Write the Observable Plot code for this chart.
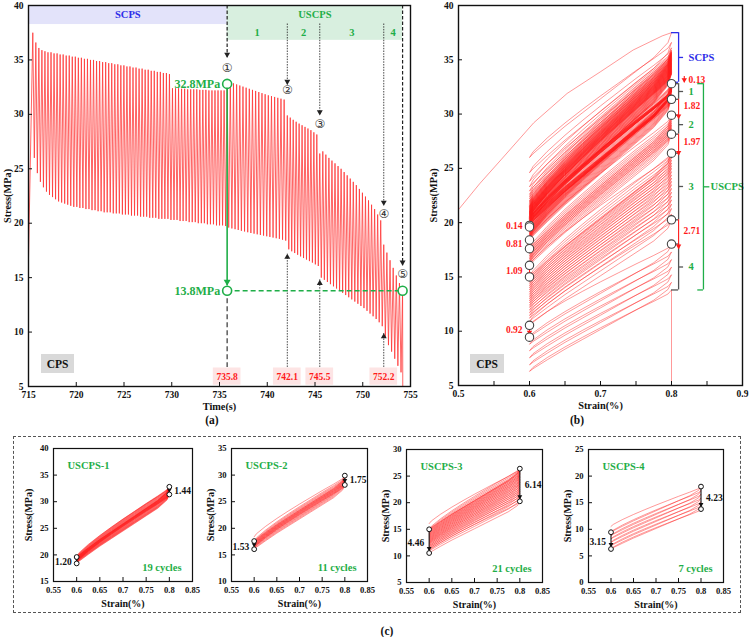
<!DOCTYPE html>
<html>
<head>
<meta charset="utf-8">
<script src="https://cdn.jsdelivr.net/npm/d3@7"></script>
<script src="https://cdn.jsdelivr.net/npm/@observablehq/plot@0.6"></script>
<style>
  html, body { margin: 0; padding: 0; background: #fff; }
  #fig { position: relative; width: 749px; height: 637px; overflow: hidden;
         font-family: "Liberation Serif", "Times New Roman", serif; font-weight: bold; color: #111; }
  #fig svg { position: absolute; max-width: none; background: transparent; }
  .note { position: absolute; white-space: nowrap; font-size: 11.5px; transform: translate(-50%, -50%); }
  .tag { position: absolute; background: #d9d9d9; font-size: 11.5px; display: flex;
         align-items: center; justify-content: center; }
  #boxC { position: absolute; left: 13px; top: 436px; width: 728px; height: 177px;
          border: 1.5px dashed #555; box-sizing: border-box; }
</style>
</head>
<body>
<div id="fig"><div id="boxC"></div></div>
<script>
// ---------- cycle extremes of each loading phase (stress, MPa) ----------
const phaseNames = ["SCPS", "USCPS-1", "USCPS-2", "USCPS-3", "USCPS-4"];
const phaseStart = [715.45, 735.8, 742.1, 745.5, 752.2];
const phaseEnd   = [735.8, 742.1, 745.5, 752.2, 754.5];

const peaksSCPS = [
  37.5, 36.6, 36.1, 35.9, 35.8, 35.7, 35.7, 35.6, 35.6, 35.5,
  35.5, 35.4, 35.4, 35.3, 35.3, 35.2, 35.2, 35.1, 35.1, 35.0,
  35.0, 34.9, 34.9, 34.8, 34.8, 34.7, 34.7, 34.6, 34.6, 34.5,
  34.5, 34.4, 34.4, 34.3, 34.3, 34.2, 34.2, 34.1, 34.1, 34.0,
  34.0, 33.9, 33.9, 33.8, 33.8, 33.7, 32.4, 32.4, 32.4, 32.35,
  32.35, 32.3, 32.3, 32.3, 32.3, 32.25, 32.25, 32.25, 32.2, 32.2,
  32.2, 32.2, 32.2, 32.2];
const valleysSCPS = [
  26.0, 24.6, 23.8, 23.3, 22.9, 22.6, 22.4, 22.2, 22.0, 21.9,
  21.8, 21.7, 21.6, 21.5, 21.5, 21.4, 21.4, 21.3, 21.3, 21.2,
  21.2, 21.1, 21.1, 21.0, 21.0, 21.0, 20.9, 20.9, 20.9, 20.8,
  20.8, 20.8, 20.7, 20.7, 20.7, 20.6, 20.6, 20.6, 20.5, 20.5,
  20.5, 20.4, 20.4, 20.4, 20.4, 20.3, 20.3, 20.3, 20.2, 20.2,
  20.2, 20.1, 20.1, 20.1, 20.0, 20.0, 20.0, 19.9, 19.9, 19.9,
  19.8, 19.8, 19.8, 19.74];
const peaksU1 = [32.8, 32.95, 32.85, 32.75, 32.65, 32.55, 32.45, 32.35, 32.25, 32.15,
  32.05, 31.95, 31.85, 31.75, 31.68, 31.6, 31.52, 31.44, 31.36];
const valleysU1 = [19.6, 19.52, 19.45, 19.38, 19.3, 19.24, 19.17, 19.1, 19.04, 18.98,
  18.92, 18.86, 18.8, 18.74, 18.68, 18.62, 18.56, 18.48, 18.4];
const peaksU2 = [29.9, 29.7, 29.5, 29.32, 29.15, 29.0, 28.85, 28.7, 28.55, 28.35, 28.15];
const valleysU2 = [17.6, 17.42, 17.26, 17.1, 16.95, 16.8, 16.66, 16.52, 16.38, 16.22, 16.07];
const peaksU3 = [26.4, 26.6, 26.3, 26.0, 25.75, 25.5, 25.25, 25.0, 24.7, 24.4,
  24.1, 23.8, 23.5, 23.15, 22.8, 22.45, 22.1, 21.7, 21.3, 20.8, 20.26];
const valleysU3 = [15.0, 14.8, 14.6, 14.4, 14.2, 14.0, 13.8, 13.6, 13.4, 13.2,
  13.0, 12.8, 12.6, 12.4, 12.2, 11.95, 11.7, 11.45, 11.2, 10.9, 10.54];
const peaksU4 = [18.03, 17.3, 16.6, 15.9, 15.2, 14.5, 13.8];
const valleysU4 = [9.45, 8.8, 8.2, 7.55, 6.9, 6.3];

// first monotonic loading (time ramp and strain path)
const rampTime = [714.95];
const rampStress = [14.5];
const initLoadStrain = [0.47, 0.5, 0.53, 0.56, 0.606, 0.653, 0.7, 0.746, 0.787, 0.8];
const initLoadStress = [19.0, 21.2, 23.6, 25.8, 29.2, 31.9, 33.9, 35.9, 37.2, 37.5];
const failureStress = 0;

// hysteresis loop shape between strain limits (fraction of the stress swing)
const loopStrain  = [0.6, 0.605, 0.625, 0.65, 0.675, 0.7, 0.725, 0.75, 0.775, 0.795, 0.8];
const loadShape   = [0, 0.05, 0.17, 0.3, 0.42, 0.535, 0.645, 0.755, 0.86, 0.95, 1];
const unloadShape = [0, 0.03, 0.13, 0.25, 0.36, 0.47, 0.58, 0.69, 0.8, 0.92, 1];

// annotation values
const bandTop = 40, scpsBandBottom = 38.25, uscpsBandBottom = 36.8;
const markerText = ["\u2460", "\u2461", "\u2462", "\u2463", "\u2464"];
const markerArrowFrom = [40, 38.3, 38.3, 38.3, 40];
const markerArrowTo = [35.2, 32.7, 29.9, 21.6, 16.1];
const markerY = [34.2, 32.2, 29.1, 20.8, 15.3];
const pointerFrom = 6.75;
const pointerTo = [17.2, 14.8, 9.9];
const peakGapLabels = [1.82, 1.97, 2.71];
const valleyGapLabels = [0.14, 0.81, 1.09, 0.92];
const scpsGapLabel = 0.13;

// ---------- derived tables ----------
const peakSets = [peaksSCPS, peaksU1, peaksU2, peaksU3, peaksU4];
const valleySets = [valleysSCPS, valleysU1, valleysU2, valleysU3, valleysU4];
const phases = phaseNames.map((name, i) => ({
  name, start: phaseStart[i], end: phaseEnd[i], peaks: peakSets[i], valleys: valleySets[i],
  period: (phaseEnd[i] - phaseStart[i]) / peakSets[i].length
}));

const timeSeries = rampTime.map((t, i) => ({t, s: rampStress[i]}));
phases.forEach(ph => ph.peaks.forEach((p, k) => {
  const t = ph.start + k * ph.period;
  timeSeries.push({t, s: p});
  if (k < ph.valleys.length) timeSeries.push({t: t + ph.period / 2, s: ph.valleys[k]});
}));
const lastPoint = timeSeries[timeSeries.length - 1];
timeSeries.push({t: lastPoint.t + 0.03, s: failureStress});

function extremaOf(list) {
  const out = [];
  list.forEach(ph => ph.peaks.forEach((p, k) => {
    out.push({kind: "peak", s: p});
    if (k < ph.valleys.length) out.push({kind: "valley", s: ph.valleys[k]});
  }));
  return out;
}
function loopPoints(ext) {
  const pts = [];
  for (let j = 1; j < ext.length; j++) {
    const a = ext[j - 1], b = ext[j];
    if (a.kind === "peak") {
      for (let i = loopStrain.length - 1; i >= 0; i--)
        pts.push({e: loopStrain[i], s: b.s + unloadShape[i] * (a.s - b.s)});
    } else {
      for (let i = 0; i < loopStrain.length; i++)
        pts.push({e: loopStrain[i], s: a.s + loadShape[i] * (b.s - a.s)});
    }
  }
  return pts;
}
const strainPath = initLoadStrain.map((e, i) => ({e, s: initLoadStress[i]}))
  .concat(loopPoints(extremaOf(phases)))
  .concat([{e: 0.8, s: failureStress}]);

const u1 = phases[1], u4 = phases[4];
const uStart = u1.start;
const firstU = u1.peaks[0];
const lastU = u4.peaks[u4.peaks.length - 1];
const lastT = u4.start + (u4.peaks.length - 1) * u4.period;
const last = a => a[a.length - 1];

// ---------- styling ----------
const red = "#ff1a1a", green = "#1fae48", blue = "#2d2de8", gray = "#555";
const baseStyle = {fontFamily: '"Liberation Serif", "Times New Roman", serif', fontWeight: "bold",
                   fontSize: "9.5px", background: "transparent", overflow: "visible", color: "#111"};
const fig = document.getElementById("fig");
function place(svg, left, top) { svg.style.left = left + "px"; svg.style.top = top + "px"; fig.appendChild(svg); }
function note(text, x, y, size, color) {
  const d = document.createElement("div"); d.className = "note"; d.textContent = text;
  d.style.left = x + "px"; d.style.top = y + "px";
  if (size) d.style.fontSize = size + "px"; if (color) d.style.color = color;
  fig.appendChild(d);
}
function tag(text, x, y, w, h) {
  const d = document.createElement("div"); d.className = "tag"; d.textContent = text;
  Object.assign(d.style, {left: x + "px", top: y + "px", width: w + "px", height: h + "px"});
  fig.appendChild(d);
}
// arrow heads as filled triangles whose tip sits on the point
function heads(data, opts, dir = "down", r = 2.2) {
  const off = 1.55 * r;
  return Plot.dot(data, {...opts, symbol: "triangle", r, stroke: "none",
    rotate: dir === "down" ? 180 : 0, dy: dir === "down" ? -off : off});
}
function axes({xTicks, yTicks, xMinor, fw, fh, xFmt, xTitle, yTitle, yTitleDx, titleDy, titleSize}) {
  const fmt = xFmt || (d => String(d));
  return [
    Plot.tickX(xMinor || xTicks, {x: d => d, insetTop: fh - 4, stroke: "#111"}),
    Plot.tickY(yTicks, {y: d => d, insetRight: fw - 4, stroke: "#111"}),
    Plot.axisX({ticks: xTicks, tickSize: 0, tickPadding: 5, tickFormat: fmt, label: null}),
    Plot.axisY({ticks: yTicks, tickSize: 0, tickPadding: 5, tickFormat: d => String(d), label: null}),
    Plot.text([xTitle], {text: d => d, frameAnchor: "bottom", dy: titleDy, lineAnchor: "middle", fontSize: titleSize}),
    Plot.text([yTitle], {text: d => d, frameAnchor: "left", dx: yTitleDx, rotate: -90,
      lineAnchor: "middle", textAnchor: "middle", fontSize: titleSize})
  ];
}

// ---------- (a) stress history ----------
const markerX = [u1.start, phases[2].start, phases[3].start, phases[4].start, lastT];
const markers = markerX.map((x, i) => ({x, from: markerArrowFrom[i], to: markerArrowTo[i], y: markerY[i],
  text: markerText[i], dashed: i === 0 || i === 4}));
const pointers = [2, 3, 4].map((p, i) => ({x: phases[p].start, to: pointerTo[i]}));
const timeTags = [1, 2, 3, 4].map(p => ({x: phases[p].start, text: String(phases[p].start)}));
const stageMid = [1, 2, 3, 4].map(p => ({x: (phases[p].start + Math.min(phases[p].end, lastT)) / 2, text: String(p)}));

const chartA = Plot.plot({
  width: 420, height: 420, marginLeft: 28, marginRight: 10, marginTop: 5, marginBottom: 34,
  style: baseStyle,
  x: {domain: [715, 755]}, y: {domain: [5, 40]},
  marks: [
    Plot.rect([0], {x1: 715, x2: uStart, y1: scpsBandBottom, y2: bandTop, fill: "#e3e3fa"}),
    Plot.rect([0], {x1: uStart, x2: lastT, y1: uscpsBandBottom, y2: bandTop, fill: "#d8efdf"}),
    Plot.text(["SCPS"], {text: d => d, x: (715 + uStart) / 2, y: (bandTop + scpsBandBottom) / 2, fill: blue, fontSize: 10.5}),
    Plot.text(["USCPS"], {text: d => d, x: (uStart + lastT) / 2, y: (bandTop + scpsBandBottom) / 2, fill: green, fontSize: 10.5}),
    Plot.text(stageMid, {x: "x", y: (scpsBandBottom + uscpsBandBottom) / 2, text: "text", fill: green, fontSize: 10.5}),
    Plot.line(timeSeries, {x: "t", y: "s", stroke: "#ff3030", strokeWidth: 0.75, clip: true}),
    // time tags along the bottom
    Plot.rect(timeTags, {x1: d => d.x - 1.45, x2: d => d.x + 1.45, y1: 5.12, y2: 6.7, fill: "#fde4e4"}),
    Plot.text(timeTags, {x: "x", y: 5.9, text: "text", fill: red, fontSize: 9.5}),
    // markers from the top
    Plot.ruleX(markers.filter(d => d.dashed), {x: "x", y1: "from", y2: "to", stroke: "#222", strokeWidth: 1.2, strokeDasharray: "3.5,2"}),
    Plot.ruleX(markers.filter(d => !d.dashed), {x: "x", y1: "from", y2: "to", stroke: "#333", strokeWidth: 0.9, strokeDasharray: "1.5,1.2"}),
    heads(markers, {x: "x", y: "to", fill: "#222"}, "down"),
    Plot.text(markers, {x: "x", y: "y", text: "text", fontFamily: "DejaVu Sans", fontWeight: "normal", fontSize: 12, fill: "#333"}),
    // pointers from the bottom
    Plot.ruleX(pointers, {x: "x", y1: pointerFrom, y2: "to", stroke: "#333", strokeWidth: 0.9, strokeDasharray: "1.5,1.2"}),
    heads(pointers, {x: "x", y: "to", fill: "#222"}, "up"),
    // stress drop over the unstable phase
    Plot.ruleX([uStart], {y1: lastU, y2: pointerFrom, stroke: "#444", strokeWidth: 1.3, strokeDasharray: "5,3"}),
    Plot.ruleX([uStart], {y1: firstU, y2: lastU + 0.45, stroke: green, strokeWidth: 1.6}),
    heads([uStart], {x: d => d, y: lastU + 0.45, fill: green}, "down", 2.6),
    Plot.ruleY([lastU], {x1: uStart, x2: lastT, stroke: green, strokeWidth: 1.4, strokeDasharray: "5,3"}),
    Plot.dot([{x: uStart, y: firstU}, {x: uStart, y: lastU}, {x: lastT, y: lastU}],
      {x: "x", y: "y", r: 4.5, stroke: green, strokeWidth: 1.6, fill: "white"}),
    Plot.text([{y: firstU}, {y: lastU}], {x: uStart, y: "y", text: d => d.y.toFixed(1) + "MPa",
      textAnchor: "end", dx: -7, fill: green, fontSize: 12}),
    Plot.frame({stroke: "#111", strokeWidth: 1.4}),
    ...axes({xTicks: d3.range(715, 756, 5), yTicks: d3.range(5, 41, 5), fw: 382, fh: 381,
      xTitle: "Time(s)", yTitle: "Stress(MPa)", yTitleDx: -21, titleDy: 20, titleSize: 10.3})
  ]
});
place(chartA, 0, 0);

// ---------- (b) stress-strain loops ----------
const circles08 = [];
const circles06 = [{e: 0.6, s: last(valleysSCPS)}];
phases.slice(1).forEach((ph, i) => {
  circles08.push({e: 0.8, s: ph.peaks[0]});
  if (i < 3) circles08.push({e: 0.8, s: last(ph.peaks)});
  circles06.push({e: 0.6, s: ph.valleys[0]});
  if (i < 3) circles06.push({e: 0.6, s: last(ph.valleys)});
});
const brackets = phases.slice(1).map((ph, i) => ({top: ph.peaks[0], bottom: last(ph.peaks), text: String(i + 1)}));
const peakGaps = peakGapLabels.map((g, i) => ({from: last(phases[i + 1].peaks), to: last(phases[i + 1].peaks) - g, text: g.toFixed(2)}));
const valleyGaps = valleyGapLabels.map((g, i) => ({from: last(phases[i].valleys), to: last(phases[i].valleys) - g, text: g.toFixed(2)}));
const scpsTop = d3.max(peaksSCPS), scpsBottom = firstU + scpsGapLabel;

const chartB = Plot.plot({
  width: 349, height: 420, marginLeft: 58, marginRight: 7, marginTop: 5, marginBottom: 35,
  style: baseStyle,
  x: {domain: [0.5, 0.9]}, y: {domain: [5, 40]},
  marks: [
    Plot.line(strainPath, {x: "e", y: "s", stroke: red, strokeWidth: 0.45, clip: true}),
    // SCPS bracket
    Plot.ruleX([0.81], {y1: scpsTop, y2: scpsBottom, stroke: blue, strokeWidth: 1.3}),
    Plot.ruleY([scpsTop, scpsBottom], {x1: 0.8, x2: 0.81, stroke: blue, strokeWidth: 1.3}),
    Plot.ruleY([(scpsTop + scpsBottom) / 2], {x1: 0.81, x2: 0.817, stroke: blue, strokeWidth: 1.3}),
    Plot.text(["SCPS"], {text: d => d, x: 0.824, y: (scpsTop + scpsBottom) / 2, textAnchor: "start", fill: blue, fontSize: 10.5}),
    // stage brackets
    Plot.ruleX(brackets, {x: 0.81, y1: "top", y2: "bottom", stroke: gray, strokeWidth: 1.3}),
    Plot.ruleY(brackets.flatMap(d => [d.top, d.bottom]), {x1: 0.8, x2: 0.81, stroke: gray, strokeWidth: 1.3}),
    Plot.ruleY(brackets, {y: d => (d.top + d.bottom) / 2, x1: 0.81, x2: 0.817, stroke: gray, strokeWidth: 1.3}),
    Plot.text(brackets, {x: 0.824, y: d => (d.top + d.bottom) / 2, text: "text", textAnchor: "start", fill: green, fontSize: 10.5}),
    // USCPS bracket
    Plot.ruleX([0.845], {y1: firstU, y2: lastU, stroke: green, strokeWidth: 1.3}),
    Plot.ruleY([firstU, lastU], {x1: 0.837, x2: 0.845, stroke: green, strokeWidth: 1.3}),
    Plot.ruleY([(firstU + lastU) / 2], {x1: 0.845, x2: 0.854, stroke: green, strokeWidth: 1.3}),
    Plot.text(["USCPS"], {text: d => d, x: 0.855, y: (firstU + lastU) / 2, textAnchor: "start", fill: green, fontSize: 10.5}),
    // drops between stages
    Plot.ruleX(peakGaps, {x: 0.81, y1: "from", y2: "to", stroke: red, strokeWidth: 1.1}),
    heads(peakGaps, {x: 0.81, y: "to", fill: red}, "down", 2),
    Plot.text(peakGaps, {x: 0.817, y: d => (d.from + d.to) / 2 + 0.3, text: "text", textAnchor: "start", fill: red, fontSize: 9.5}),
    Plot.ruleX([0.818], {y1: 33.45, y2: scpsBottom - 0.05, stroke: red, strokeWidth: 1.1}),
    heads([0.818], {x: d => d, y: scpsBottom - 0.05, fill: red}, "down", 2),
    Plot.text([scpsGapLabel.toFixed(2)], {text: d => d, x: 0.824, y: 33.15, textAnchor: "start", fill: red, fontSize: 9.5}),
    Plot.ruleX(valleyGaps, {x: 0.6, y1: "from", y2: "to", stroke: red, strokeWidth: 1.1}),
    heads(valleyGaps, {x: 0.6, y: "to", fill: red}, "down", 2),
    Plot.text(valleyGaps, {x: 0.6, y: d => (d.from + d.to) / 2, text: "text", textAnchor: "end", dx: -7, fill: red, fontSize: 9.5}),
    Plot.dot(circles08.concat(circles06), {x: "e", y: "s", r: 4.2, stroke: "#444", strokeWidth: 1.1, fill: "white"}),
    Plot.frame({stroke: "#111", strokeWidth: 1.4}),
    ...axes({xTicks: [0.5, 0.6, 0.7, 0.8, 0.9], xMinor: d3.range(0.55, 0.9, 0.05).map(v => +v.toFixed(2)),
      yTicks: d3.range(5, 41, 5), fw: 284, fh: 380,
      xTitle: "Strain(%)", yTitle: "Stress(MPa)", yTitleDx: -25, titleDy: 20, titleSize: 10.3})
  ]
});
place(chartB, 400, 0);

// ---------- (c) loops of each unstable stage ----------
const smallSpecs = [
  {phase: 1, left: 0,   width: 200, ml: 53, mr: 8,  mt: 12, mb: 35, y: [15, 40], titleDx: -25},
  {phase: 2, left: 180, width: 195, ml: 51, mr: 8,  mt: 12, mb: 35, y: [10, 35], titleDx: -21},
  {phase: 3, left: 360, width: 190, ml: 46, mr: 8,  mt: 13, mb: 34, y: [5, 30],  titleDx: -21},
  {phase: 4, left: 545, width: 190, ml: 43, mr: 12, mt: 13, mb: 34, y: [0, 25],  titleDx: -21}
];
smallSpecs.forEach(sp => {
  const ph = phases[sp.phase];
  const prev = phases[sp.phase - 1];
  const ext = [{kind: "valley", s: last(prev.valleys)}].concat(extremaOf([ph]));
  const path = loopPoints(ext);
  const p0 = ph.peaks[0], p1 = last(ph.peaks), v0 = ph.valleys[0], v1 = last(ph.valleys);
  const peakDrop = {e: 0.8, from: p0, to: p1, text: (p0 - p1).toFixed(2)};
  const valleyDrop = {e: 0.6, from: v0, to: v1, text: (v0 - v1).toFixed(2)};
  const drops = [peakDrop, valleyDrop];
  const chart = Plot.plot({
    width: sp.width, height: 180, marginLeft: sp.ml, marginRight: sp.mr, marginTop: sp.mt, marginBottom: sp.mb,
    style: {...baseStyle, fontSize: "8.6px"},
    x: {domain: [0.55, 0.85]}, y: {domain: sp.y},
    marks: [
      Plot.line(path, {x: "e", y: "s", stroke: red, strokeWidth: 0.45, clip: true}),
      Plot.ruleX(drops, {x: "e", y1: "from", y2: d => d.to + 0.35, stroke: "#111", strokeWidth: 1.1}),
      heads(drops, {x: "e", y: d => d.to + 0.35, fill: "#111"}, "down", 1.8),
      Plot.dot(drops.flatMap(d => [{e: d.e, s: d.from}, {e: d.e, s: d.to}]), {x: "e", y: "s", r: 2.4, stroke: "#111", strokeWidth: 1, fill: "white"}),
      Plot.text([peakDrop], {x: "e", y: d => (d.from + d.to) / 2, text: "text", textAnchor: "start", dx: 5, fontSize: 9.5}),
      Plot.text([valleyDrop], {x: "e", y: d => (d.from + d.to) / 2 - 0.3, text: "text", textAnchor: "end", dx: -5, fontSize: 9.5}),
      Plot.text([ph.name], {text: d => d, frameAnchor: "top-left", dx: 14, dy: 17, lineAnchor: "middle", fill: green, fontSize: 10.5}),
      Plot.text([ph.peaks.length + " cycles"], {text: d => d, frameAnchor: "bottom-right", dx: -11, dy: -14, lineAnchor: "middle", textAnchor: "end", fill: green, fontSize: 10.5}),
      Plot.frame({stroke: "#111", strokeWidth: 1.2}),
      ...axes({xTicks: [0.55, 0.6, 0.65, 0.7, 0.75, 0.8, 0.85], yTicks: d3.range(sp.y[0], sp.y[1] + 1, 5),
        fw: sp.width - sp.ml - sp.mr, fh: 180 - sp.mt - sp.mb,
        xTitle: "Strain(%)", yTitle: "Stress(MPa)", yTitleDx: sp.titleDx, titleDy: 22, titleSize: 10})
    ]
  });
  place(chart, sp.left, 436);
});

// panel tags
tag("CPS", 41, 354, 33, 19);
tag("CPS", 470, 354, 34, 19);
note("(a)", 212, 420, 11.5);
note("(b)", 577, 420, 11.5);
note("(c)", 387, 631, 11.5);
</script>
</body>
</html>
